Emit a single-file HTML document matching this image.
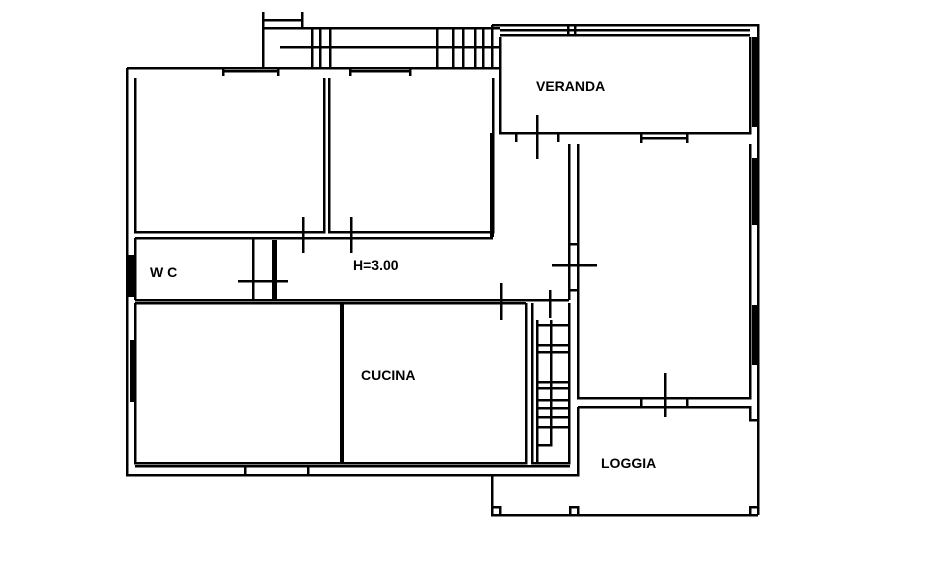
<!DOCTYPE html>
<html><head><meta charset="utf-8"><style>
html,body{margin:0;padding:0;background:#fff;width:948px;height:586px;overflow:hidden}
svg{display:block}
text{font-family:"Liberation Sans",sans-serif;font-size:14px;fill:#000;font-weight:bold}
</style></head><body>
<svg width="948" height="586" viewBox="0 0 948 586" xmlns="http://www.w3.org/2000/svg" shape-rendering="crispEdges">
<g stroke="#000" stroke-width="2.5" fill="none">
<path d="M127 68 H500 M127 68 V475 H578 V407"/>
<path d="M263 12 V68 M302 12 V28 M263 20 H302 M263 28 H500 M280 47 H500"/>
<path d="M312 28V68 M320 28V68 M330 28V68 M437 28V68 M453 28V68 M463 28V68 M475 28V68 M483 28V68 M492 28V68"/>
<path d="M223 71 H278 M223 68V76 M278 68V76 M350 71 H410 M350 68V76 M410 68V76"/>
<path d="M135 78 V232 H324 V78"/>
<path d="M329 78 V232 H493 V78"/>
<path d="M135 238 H493 M135 238 V300 M135 300 H500 M502 300 H569"/>
<path d="M253 238 V300"/>
<path d="M303 217 V253 M351 217 V253 M238 281 H288 M552 265 H597 M537 115 V159 M665 373 V417 M501 283 V320 M550 290 V318"/>
<path d="M492 25 H758 V515 M500 30 H750 M500 35 H750 M492 25 V68 M500 37 V133 H750 V37"/>
<path d="M568 25V35 M575 25V35"/>
<path d="M641 138 H687 M641 134V143 M687 134V143 M516 133V142 M558 133V142"/>
<path d="M569 144 V300 M578 144 V398 H750 V144 M569 244 H578 M569 290 H578"/>
<path d="M578 407 H750 V420 H758"/>
<path d="M641 398V407 M687 398V407"/>
<path d="M135 303 V463 H526 V303 M135 303 H526"/>
<path d="M135 466 H570 M245 466 V475 M308 466 V475"/>
<path d="M532 303 V463 H569 V303 M551 320 V445 H537 M537 320 V463"/>
<path d="M537 325H569 M537 345H569 M537 352H569 M537 382H569 M537 388H569 M537 400H569 M537 408H569 M537 417H569 M537 427H569"/>
<path d="M492 475 V515 H758"/>
<path d="M492 507 H500 V515 M570 515 V507 H578 V515 M750 515 V507 H758"/>
</g>
<g fill="#000">
<rect x="490" y="133" width="4" height="104"/>
<rect x="127" y="255" width="7" height="42"/>
<rect x="272" y="240" width="5" height="60"/>
<rect x="130" y="340" width="4" height="62"/>
<rect x="340" y="303" width="4" height="160"/>
<rect x="752" y="158" width="5" height="67"/>
<rect x="752" y="305" width="5" height="60"/>
<rect x="752" y="37" width="5" height="90"/>
</g>
<text x="536" y="91" font-size="13">VERANDA</text>
<text x="150" y="277" font-size="13">W C</text>
<text x="353" y="270" font-size="14">H=3.00</text>
<text x="361" y="380" font-size="14">CUCINA</text>
<text x="601" y="468" font-size="13">LOGGIA</text>
</svg>
</body></html>
